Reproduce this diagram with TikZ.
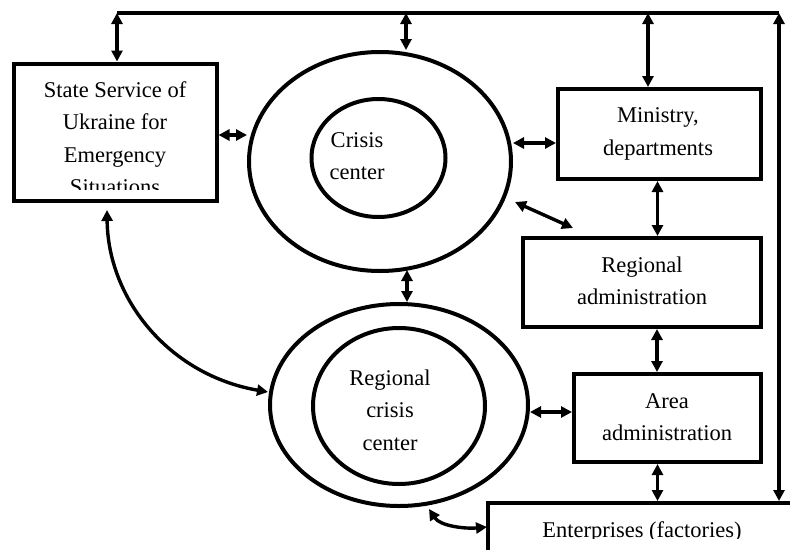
\documentclass[tikz,border=0pt]{standalone}
\usepackage{fontspec}
\setmainfont{Liberation Serif}
\usetikzlibrary{shapes.geometric,arrows.meta}
\begin{document}
\begin{tikzpicture}[x=1pt,y=-1pt,
  box/.style={draw,line width=4pt,rectangle,inner sep=0pt},
  oval/.style={draw,line width=4pt,ellipse,inner sep=0pt},
  lbl/.style={align=center,inner sep=0pt,font=\fontsize{22.5}{32.5}\selectfont},
  arr/.style={line width=3.4pt,{Triangle[length=11pt,width=11pt]}-{Triangle[length=11pt,width=11pt]}},
  plain/.style={line width=3.4pt}]
\useasboundingbox (0,0) rectangle (790,549);
\clip (0,0) rectangle (790,549);
% boxes
\node[box,minimum width=203pt,minimum height=137pt] (state) at (115,132) {};
\node[box,minimum width=203pt,minimum height=90pt] (ministry) at (659.5,134) {};
\node[box,minimum width=238pt,minimum height=89pt] (radmin) at (642,282.5) {};
\node[box,minimum width=187pt,minimum height=88pt] (area) at (667.5,418) {};
\node[box,minimum width=312pt,minimum height=67pt] (ent) at (644,536.5) {};
% ellipses
\node[oval,minimum width=262pt,minimum height=219pt] (crisisO) at (380,161.5) {};
\node[oval,minimum width=134pt,minimum height=118pt] (crisisI) at (378.5,158) {};
\node[oval,minimum width=258pt,minimum height=202pt] (rcO) at (399,405) {};
\node[oval,minimum width=172pt,minimum height=156pt] (rcI) at (399,406) {};
% texts
\begin{scope}
\clip (20,70) rectangle (210,189);
\node[lbl] (stateT) at (115,138) {State Service of\\Ukraine for\\Emergency\\Situations};
\end{scope}
\node[lbl] (crisisT) at (357,156) {Crisis\\center};
\node[lbl] (rcT) at (390,410) {Regional\\crisis\\center};
\node[lbl] (ministryT) at (658,134) {Ministry,\\departments};
\node[lbl] (radminT) at (642,281) {Regional\\administration};
\node[lbl] (areaT) at (667,417) {Area\\administration};
\begin{scope}
\clip (490,505) rectangle (790,538);
\node[lbl] (entT) at (642,532) {Enterprises (factories)};
\end{scope}
% coordinates
\coordinate (tl) at (117,13);
\coordinate (tm) at (406,13);
\coordinate (tmin) at (648,13);
\coordinate (tr) at (779,13);
\coordinate (d1) at (515,202);
\coordinate (d2) at (573,228);
\coordinate (s1) at (107,210);
\coordinate (r1) at (268,392);
\coordinate (c1) at (429,509);
\coordinate (c2) at (487,527);
\coordinate (v1) at (407,270);
\coordinate (v2) at (407,302);
% connectors
\draw[plain] (tl) -- (tr);
\draw[arr] (tl) -- (tl |- state.north);
\draw[arr] (tm) -- (tm |- crisisO.north);
\draw[arr] (tmin) -- (tmin |- ministry.north);
\draw[arr] (tr |- ent.north) -- (tr);
\draw[arr] ([yshift=-3pt]state.east) -- ([yshift=-3pt]state.east -| crisisO.west);
\draw[arr] ([yshift=-9pt]ministry.west -| crisisO.east) -- ([yshift=-9pt]ministry.west);
\draw[arr] (d1) -- (d2);
\draw[arr] ([xshift=-2pt]ministry.south) -- ([xshift=-2pt]ministry.south |- radmin.north);
\draw[arr] (v1) -- (v2);
\draw[arr] ([xshift=15pt]radmin.south) -- ([xshift=15pt]radmin.south |- area.north);
\draw[arr] ([xshift=-10pt]area.south) -- ([xshift=-10pt]area.south |- ent.north);
\draw[arr] ([yshift=6pt]area.west -| rcO.east) -- ([yshift=6pt]area.west);
\draw[arr] (s1) .. controls (108,300) and (170,375) .. (r1);
\draw[arr] (c1) .. controls (440,526) and (465,529) .. (c2);
\end{tikzpicture}
\end{document}
